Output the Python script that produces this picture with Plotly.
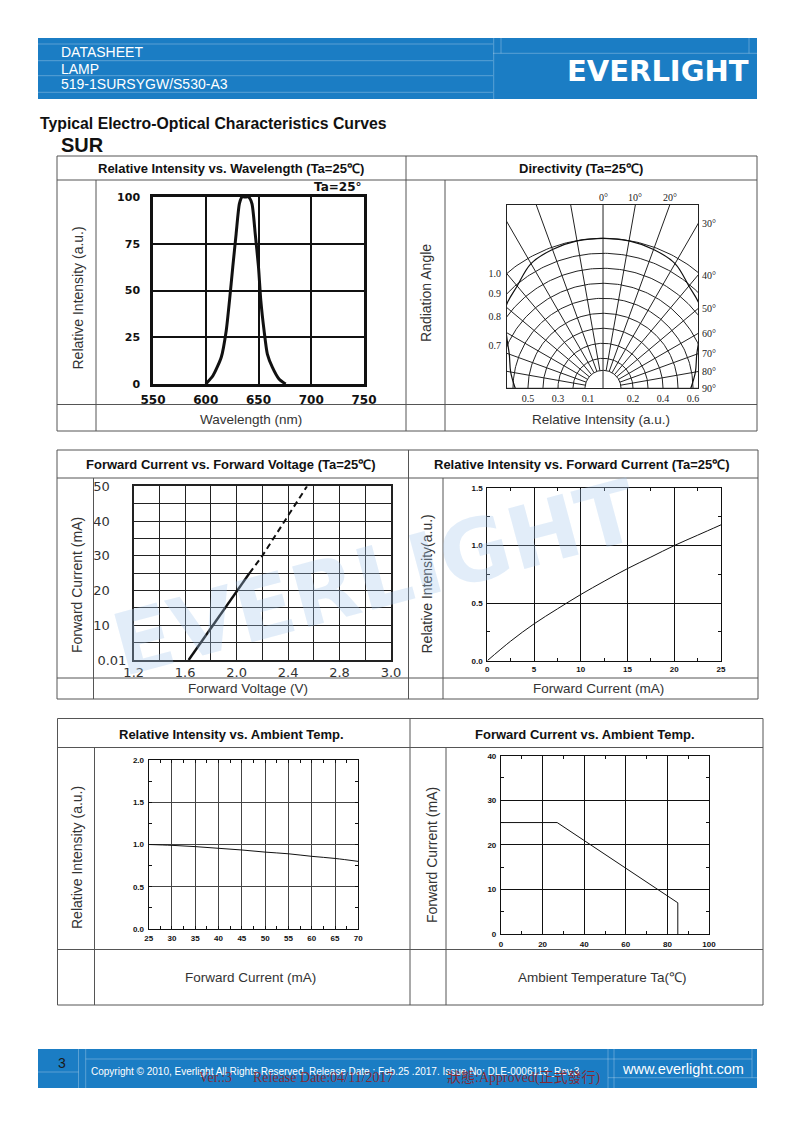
import numpy as np
import plotly.graph_objects as go

# page is 794x1123; the html body adds an 8px margin, so the figure is drawn 8px in
PAGE_OFF = 8
W, H = 794 - 2 * PAGE_OFF, 1123 - 2 * PAGE_OFF


def px(x):
    return (x - PAGE_OFF) / W


def py(y):
    return 1 - (y - PAGE_OFF) / H


# ---------------- data ----------------
# Relative intensity vs wavelength
wl_nm = [600, 606.8, 614.7, 619.4, 622.5, 625.6, 628.8, 631.9, 634.4, 637.5, 640.6,
         643.8, 646.9, 650.0, 652.2, 655.3, 658.4, 663.1, 669.4, 675.7]
wl_int = [0, 4.4, 14.3, 28.5, 44.6, 62.5, 80.3, 96.4, 100, 100, 100,
          96.4, 80.3, 62.5, 44.6, 28.5, 16, 9, 2.7, 0]
wl_xticks = [550, 600, 650, 700, 750]
wl_yticks = [0, 25, 50, 75, 100]

# Directivity (radiation pattern)
dir_angle = [0, 10, 20, 30, 40, 50, 60, 70, 80, 90]
dir_intensity = [1.0, 0.998, 0.985, 0.96, 0.89, 0.845, 0.745, 0.665, 0.625, 0.585]
dir_rings = [0.12, 0.2, 0.3, 0.4, 0.5, 0.6, 0.7, 0.8, 0.9, 1.0]
dir_spokes = [-90, -80, -70, -60, -50, -40, -30, -20, -10, 0, 10, 20, 30, 40, 50, 60, 70, 80, 90]
dir_left_labels = [1.0, 0.9, 0.8, 0.7]
dir_bottom_vals = [-0.5, -0.3, -0.1, 0.2, 0.4, 0.6]
dir_top_angles = [0, 10, 20]
dir_right_angles = [30, 40, 50, 60, 70, 80, 90]

# Forward current vs forward voltage
iv_v_solid = [1.627, 2.0, 2.1]
iv_i_solid = [0, 20, 25]
iv_v_dash = [2.1, 2.2, 2.547]
iv_i_dash = [25, 30, 50]
iv_xtick_pos = [1.2, 1.6, 2.0, 2.4, 2.8, 3.2]
iv_xtick_text = ["1.2", "1.6", "2.0", "2.4", "2.8", "3.0"]
iv_ytick_pos = [0, 10, 20, 30, 40, 50]
iv_ytick_text = ["0.01", "10", "20", "30", "40", "50"]

# Relative intensity vs forward current
if_ma = [0, 2.5, 5, 7.5, 10, 12.5, 15, 17.5, 20, 22.5, 25]
ri_if = [0, 0.17, 0.32, 0.45, 0.575, 0.69, 0.80, 0.90, 1.0, 1.09, 1.18]
if_xticks = [0, 5, 10, 15, 20, 25]
if_yticks = [0.0, 0.5, 1.0, 1.5]

# Relative intensity vs ambient temperature
ta_c = [25, 30, 35, 40, 45, 50, 55, 60, 65, 70]
ri_ta = [1.0, 0.99, 0.975, 0.955, 0.935, 0.91, 0.89, 0.86, 0.835, 0.80]
ta_xticks = [25, 30, 35, 40, 45, 50, 55, 60, 65, 70]
ta_yticks = [0.0, 0.5, 1.0, 1.5, 2.0]

# Forward current vs ambient temperature (derating)
der_ta = [0, 27, 85, 85]
der_if = [25, 25, 7, 0]
der_xticks = [0, 20, 40, 60, 80, 100]
der_yticks = [0, 10, 20, 30, 40]

# ---------------- figure ----------------
fig = go.Figure()
shapes = []
annotations = []

BLUE = "#1b7dc4"
LIGHT = "rgba(255,255,255,0.28)"
GRAYLINE = "#555555"
REDTXT = "rgba(150,25,25,0.85)"


def line(x0, y0, x1, y1, color=GRAYLINE, width=1, dash=None):
    d = dict(color=color, width=width)
    if dash:
        d["dash"] = dash
    shapes.append(dict(type="line", xref="paper", yref="paper",
                       x0=px(x0), y0=py(y0), x1=px(x1), y1=py(y1), line=d))


def rect(x0, y0, x1, y1, fill=None, color=GRAYLINE, width=1):
    s = dict(type="rect", xref="paper", yref="paper",
             x0=px(x0), y0=py(y0), x1=px(x1), y1=py(y1),
             line=dict(color=color, width=width))
    if fill:
        s["fillcolor"] = fill
    shapes.append(s)


def text(x, y, s, size=12, color="#222", bold=False, family="Liberation Sans, Arial",
         xanchor="center", yanchor="middle", angle=0):
    annotations.append(dict(xref="paper", yref="paper", x=px(x), y=py(y),
                            text=("<b>%s</b>" % s) if bold else s,
                            showarrow=False, xanchor=xanchor, yanchor=yanchor, textangle=angle,
                            font=dict(size=size, color=color, family=family)))


def bold_labels(vals, fmt):
    return ["<b>" + (fmt % v) + "</b>" for v in vals]


# ---- header ----
rect(38, 38, 757, 99, fill=BLUE, color=BLUE, width=0)
for yy in [44, 60.7, 75.7, 92.3]:
    line(38, yy, 493, yy, color=LIGHT)
line(493, 53.3, 757, 53.3, color=LIGHT)
line(493.7, 38, 493.7, 99, color=LIGHT)
line(501, 38, 501, 53.3, color=LIGHT)
line(749, 38, 749, 53.3, color=LIGHT)
text(59, 52.5, "DATASHEET", 14, "white", xanchor="left")
text(59, 69, "LAMP", 14, "white", xanchor="left")
text(59, 84.5, "519-1SURSYGW/S530-A3", 14, "white", xanchor="left")
text(658, 71, "EVERLIGHT", 29, "white", bold=True, family="DejaVu Sans")

# ---- headings ----
text(38, 124, "Typical Electro-Optical Characteristics Curves", 15.8, "#111", bold=True, xanchor="left")
text(59, 145, "SUR", 20, "#111", bold=True, xanchor="left")

TS = 13  # panel title size

# ---- table row 1 ----
rect(57, 156, 757, 431)
line(406, 156, 406, 431)
line(57, 180, 757, 180)
line(57, 404.5, 757, 404.5)
line(96, 180, 96, 431)
line(445, 180, 445, 431)
text(231, 168, "Relative Intensity vs. Wavelength (Ta=25℃)", TS, "#111", bold=True)
text(581, 168, "Directivity (Ta=25℃)", TS, "#111", bold=True)
text(77.5, 298, "Relative Intensity (a.u.)", 14, "#333", angle=-90)
text(426, 293, "Radiation Angle", 14, "#333", angle=-90)
text(251, 419, "Wavelength (nm)", 13.5, "#333")
text(601, 419, "Relative Intensity (a.u.)", 13.5, "#333")

# ---- table row 2 ----
rect(57, 450, 758, 699)
line(408.5, 450, 408.5, 699)
line(57, 478, 758, 478)
line(57, 678, 758, 678)
line(93.5, 478, 93.5, 699)
line(443, 478, 443, 699)
text(231, 464.5, "Forward Current vs. Forward Voltage (Ta=25℃)", TS, "#111", bold=True)
text(582, 464.5, "Relative Intensity vs. Forward Current (Ta=25℃)", TS, "#111", bold=True)
text(77, 585, "Forward Current (mA)", 14, "#333", angle=-90)
text(426.5, 584, "Relative Intensity(a.u.)", 14, "#333", angle=-90)
text(248, 688.5, "Forward Voltage (V)", 13.5, "#333")
text(598.5, 688.5, "Forward Current (mA)", 13.5, "#333")

# ---- table row 3 ----
rect(57.5, 718.5, 763, 1005)
line(410, 718.5, 410, 1005)
line(57.5, 747.5, 763, 747.5)
line(57.5, 949.5, 763, 949.5)
line(94.5, 747.5, 94.5, 1005)
line(446, 747.5, 446, 1005)
text(231, 734.5, "Relative Intensity vs. Ambient Temp.", TS, "#111", bold=True)
text(585, 734, "Forward Current vs. Ambient Temp.", TS, "#111", bold=True)
text(77, 858, "Relative Intensity (a.u.)", 14, "#333", angle=-90)
text(432, 855, "Forward Current (mA)", 14, "#333", angle=-90)
text(250, 977, "Forward Current (mA)", 13.5, "#333")
text(602, 977.5, "Ambient Temperature Ta(℃)", 13.5, "#333")

# ---- footer ----
rect(38, 1049, 757, 1088, fill=BLUE, color=BLUE, width=0)
line(85.7, 1059, 752, 1059, color=LIGHT)
line(78.5, 1049, 78.5, 1088, color=LIGHT)
line(85.7, 1049, 85.7, 1088, color=LIGHT)
line(38, 1072, 78.5, 1072, color=LIGHT)
line(608, 1049, 608, 1088, color=LIGHT)
line(614, 1049, 614, 1088, color=LIGHT)
line(608, 1077.7, 757, 1077.7, color=LIGHT)
line(752, 1049, 752, 1077.7, color=LIGHT)
text(62, 1063, "3", 14, "#1a1a1a")
text(89, 1071, "Copyright © 2010, Everlight All Rights Reserved. Release Date : Feb.25 .2017. Issue No: DLE-0006113_Rev.3",
     10, "white", xanchor="left")
text(683, 1069, "www.everlight.com", 14.5, "white")
serif_cjk = "Liberation Serif, Noto Sans CJK TC"
text(197, 1077.5, "Ver.:3", 14, REDTXT, family=serif_cjk, xanchor="left")
text(251, 1077.5, "Release Date:04/11/2017", 14, REDTXT, family=serif_cjk, xanchor="left")
text(445, 1077.5, "狀態:Approved(正式發行)", 14, REDTXT, family=serif_cjk, xanchor="left")

# ---- watermark ----
text(375, 578, "EVERLIGHT", 86, "rgba(165,200,235,0.32)", bold=True, family="DejaVu Sans", angle=-15)

# ================= charts =================
BLK = "#111111"


def dom(x0, x1, y0, y1):
    return [px(x0), px(x1)], [py(y1), py(y0)]


# ---- chart 1: wavelength ----
xd, yd = dom(153, 364, 197, 384)
fig.add_trace(go.Scatter(x=wl_nm, y=wl_int, mode="lines", xaxis="x", yaxis="y",
                         line=dict(color=BLK, width=3, shape="spline", smoothing=0.6),
                         showlegend=False, hoverinfo="skip"))
ax1 = dict(showgrid=True, gridcolor=BLK, gridwidth=2, showline=True, mirror=True,
           linecolor=BLK, linewidth=2.5, zeroline=False, ticks="", fixedrange=True, automargin=False)
fig.update_layout(
    xaxis=dict(domain=xd, range=[550, 750], tickvals=wl_xticks, ticktext=bold_labels(wl_xticks, "%d"),
               anchor="y", tickfont=dict(family="DejaVu Sans", size=12, color=BLK), ticklabelstandoff=3, **ax1),
    yaxis=dict(domain=yd, range=[0, 100], tickvals=wl_yticks, ticktext=bold_labels(wl_yticks, "%d"),
               anchor="x", tickfont=dict(family="DejaVu Sans", size=11, color=BLK), ticklabelstandoff=8, **ax1),
)
annotations.append(dict(xref="x", yref="y", x=750, y=100, xanchor="right", yanchor="bottom",
                        text="<b>Ta=25°</b>", showarrow=False, yshift=1,
                        font=dict(family="DejaVu Sans", size=12, color=BLK)))

# ---- chart 2: directivity ----
xd, yd = dom(507, 698, 205, 388.3)
xl, xr, ytop = -0.64, 0.633, 1.222
th = np.linspace(0, np.pi, 181)
for r in dir_rings:
    fig.add_trace(go.Scatter(x=r * np.cos(th), y=r * np.sin(th), mode="lines", xaxis="x2", yaxis="y2",
                             line=dict(color="#222", width=1), showlegend=False, hoverinfo="skip"))
for a in dir_spokes:
    rad = np.radians(a)
    r0 = 0 if a == 0 else dir_rings[0]
    fig.add_trace(go.Scatter(x=[r0 * np.sin(rad), 3 * np.sin(rad)], y=[r0 * np.cos(rad), 3 * np.cos(rad)],
                             mode="lines", xaxis="x2", yaxis="y2",
                             line=dict(color="#222", width=1), showlegend=False, hoverinfo="skip"))
ang = np.radians(np.array(dir_angle, dtype=float))
ri = np.array(dir_intensity)
pat_x = np.concatenate([-(ri * np.sin(ang))[::-1], (ri * np.sin(ang))[1:]])
pat_y = np.concatenate([(ri * np.cos(ang))[::-1], (ri * np.cos(ang))[1:]])
fig.add_trace(go.Scatter(x=pat_x, y=pat_y, mode="lines", xaxis="x2", yaxis="y2",
                         line=dict(color="#111", width=1.2, shape="spline"), showlegend=False, hoverinfo="skip"))
left_vals = [float(np.sqrt(r * r - xl * xl)) for r in dir_left_labels]
serif = dict(family="Liberation Serif", size=10, color="#222")
fig.update_layout(
    xaxis2=dict(domain=xd, range=[xl, xr], anchor="y2", showgrid=False, zeroline=False,
                showline=True, mirror=True, linecolor="#222", linewidth=1, ticks="",
                tickvals=dir_bottom_vals, ticktext=["%.1f" % abs(v) for v in dir_bottom_vals],
                tickfont=serif, ticklabelstandoff=1, fixedrange=True, automargin=False),
    yaxis2=dict(domain=yd, range=[0, ytop], anchor="x2", showgrid=False, zeroline=False,
                showline=True, mirror=True, linecolor="#222", linewidth=1, ticks="",
                tickvals=left_vals, ticktext=["%.1f" % v for v in dir_left_labels],
                tickfont=serif, ticklabelstandoff=3, fixedrange=True, automargin=False),
)
for a in dir_top_angles:
    annotations.append(dict(xref="x2", yref="y2", x=ytop * np.tan(np.radians(a)), y=ytop,
                            xanchor="center", yanchor="bottom", showarrow=False, text="%d°" % a,
                            font=serif))
for a in dir_right_angles:
    yv = xr / np.tan(np.radians(a))
    annotations.append(dict(xref="x2", yref="y2", x=xr, y=yv, xanchor="left", yanchor="middle",
                            xshift=2, showarrow=False, text="%d°" % a, font=serif))

# ---- chart 3: IV ----
xd, yd = dom(133.7, 391, 486.3, 660)
fig.add_trace(go.Scatter(x=iv_v_solid, y=iv_i_solid, mode="lines", xaxis="x3", yaxis="y3",
                         line=dict(color=BLK, width=2.5), showlegend=False, hoverinfo="skip"))
fig.add_trace(go.Scatter(x=iv_v_dash, y=iv_i_dash, mode="lines", xaxis="x3", yaxis="y3",
                         line=dict(color=BLK, width=2, dash="6px,4px"), showlegend=False, hoverinfo="skip"))
ax3 = dict(showgrid=True, gridcolor="#222", gridwidth=1, showline=True, mirror=True,
           linecolor="#222", linewidth=1.5, zeroline=False, ticks="", fixedrange=True, automargin=False,
           tickfont=dict(family="DejaVu Sans", size=13, color="#333"))
iv_ylab = [t + "\u00a0" * (2 * (4 - len(t))) for t in iv_ytick_text]
fig.update_layout(
    xaxis3=dict(domain=xd, range=[1.2, 3.2], anchor="y3", tickvals=iv_xtick_pos, ticktext=iv_xtick_text,
                minor=dict(dtick=0.2, tick0=1.2, showgrid=True, gridcolor="#222", gridwidth=1),
                ticklabelstandoff=0, **ax3),
    yaxis3=dict(domain=yd, range=[0, 50], anchor="x3", tickvals=iv_ytick_pos, ticktext=iv_ylab,
                minor=dict(dtick=5, tick0=0, showgrid=True, gridcolor="#222", gridwidth=1),
                ticklabelstandoff=3, **ax3),
)

small = dict(family="Liberation Sans, Arial", size=8, color=BLK)


def small_axis(domain, rng, tickvals, fmt, anchor, minor_dtick, gridcolor, gridwidth, standoff, tick0=None):
    d = dict(domain=domain, range=rng, tickvals=tickvals, ticktext=bold_labels(tickvals, fmt), anchor=anchor,
             showgrid=True, gridcolor=gridcolor, gridwidth=gridwidth, showline=True, mirror="ticks",
             linecolor=BLK, linewidth=1.2, zeroline=False, ticks="inside", ticklen=3, tickcolor=BLK,
             minor=dict(dtick=minor_dtick, ticks="inside", ticklen=3, tickcolor=BLK),
             tickfont=small, ticklabelstandoff=standoff, fixedrange=True, automargin=False)
    if tick0 is not None:
        d["minor"]["tick0"] = tick0
    return d


# ---- chart 4: RI vs IF ----
xd, yd = dom(487.3, 721, 488, 660.7)
fig.add_trace(go.Scatter(x=if_ma, y=ri_if, mode="lines", xaxis="x4", yaxis="y4",
                         line=dict(color=BLK, width=1, shape="spline"), showlegend=False, hoverinfo="skip"))
fig.update_layout(
    xaxis4=small_axis(xd, [0, 25], if_xticks, "%d", "y4", 2.5, BLK, 1, 1),
    yaxis4=small_axis(yd, [0, 1.5], if_yticks, "%.1f", "x4", 0.25, BLK, 1, 2),
)

# ---- chart 5: RI vs Ta ----
xd, yd = dom(148.7, 358.3, 760, 929)
fig.add_trace(go.Scatter(x=ta_c, y=ri_ta, mode="lines", xaxis="x5", yaxis="y5",
                         line=dict(color=BLK, width=1, shape="spline"), showlegend=False, hoverinfo="skip"))
fig.update_layout(
    xaxis5=small_axis(xd, [25, 70], ta_xticks, "%d", "y5", 2.5, "#444", 1.4, 1, tick0=25),
    yaxis5=small_axis(yd, [0, 2.0], ta_yticks, "%.1f", "x5", 0.25, "#444", 1.4, 2),
)

# ---- chart 6: IF vs Ta ----
xd, yd = dom(501, 709, 755.7, 934)
fig.add_trace(go.Scatter(x=der_ta, y=der_if, mode="lines", xaxis="x6", yaxis="y6",
                         line=dict(color=BLK, width=1), showlegend=False, hoverinfo="skip"))
fig.update_layout(
    xaxis6=small_axis(xd, [0, 100], der_xticks, "%d", "y6", 10, BLK, 1, 2),
    yaxis6=small_axis(yd, [0, 40], der_yticks, "%d", "x6", 5, BLK, 1, 2),
)

fig.update_layout(
    width=W, height=H, margin=dict(l=0, r=0, t=0, b=0, pad=0, autoexpand=False),
    paper_bgcolor="white", plot_bgcolor="rgba(0,0,0,0)",
    shapes=shapes, annotations=annotations, showlegend=False,
    font=dict(family="Liberation Sans, Arial", color="#222"),
)
fig.write_html("out.html", config={"displayModeBar": False})
